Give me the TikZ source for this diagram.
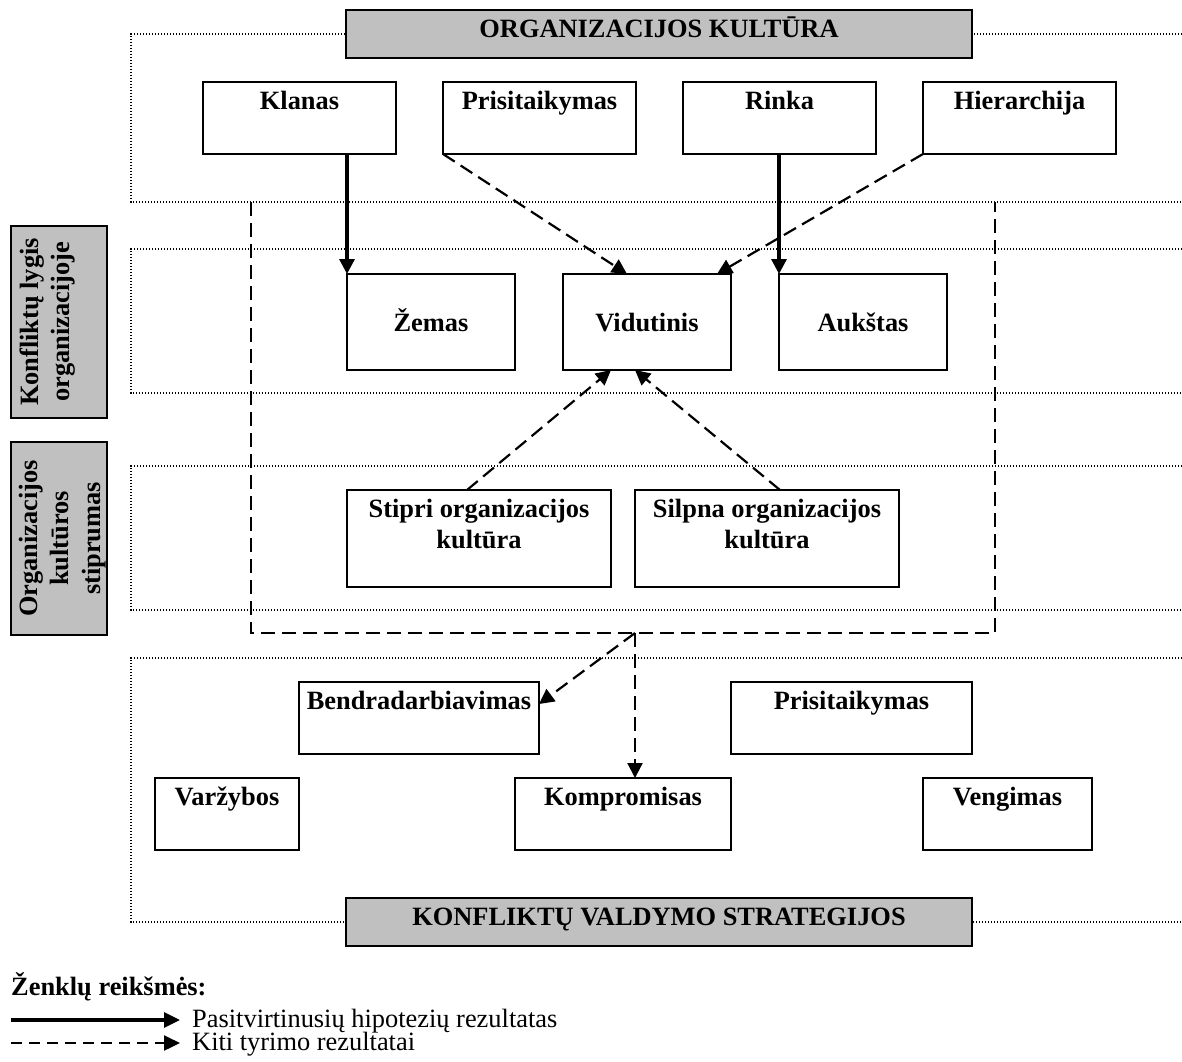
\documentclass[tikz,border=0pt]{standalone}
\usepackage{fontspec}
\setmainfont{Liberation Serif}
\usetikzlibrary{arrows.meta}
\definecolor{headgray}{HTML}{C0C0C0}

\tikzset{
  box/.style={draw, line width=2pt, fill=white, inner sep=0pt, outer sep=0pt, anchor=north west},
  headbox/.style={box, fill=headgray},
  txt/.style={anchor=base, inner sep=0pt, font=\fontsize{26.4}{31.5}\selectfont\bfseries},
  plaintxt/.style={anchor=base west, inner sep=0pt, font=\fontsize{26.4}{31.5}\selectfont},
  zone/.style={line width=1.1pt, dash pattern=on 1.1pt off 1.9pt},
  frame/.style={line width=2.2pt, dash pattern=on 14pt off 7pt},
  solidarrow/.style={line width=3.2pt, -{Triangle[length=15pt,width=15pt]}},
  dasharrow/.style={line width=2.2pt, dash pattern=on 14pt off 7pt, -{Triangle[length=15pt,width=15pt]}},
  legsolid/.style={line width=3.2pt, -{Triangle[length=16pt,width=15pt]}},
  legdash/.style={line width=2.3pt, dash pattern=on 11pt off 7pt, -{Triangle[length=16pt,width=15pt]}},
}

\begin{document}
\begin{tikzpicture}[x=1pt, y=-1pt]
\useasboundingbox (0,0) rectangle (1182,1061);

% dotted zones (open to the right)
\draw[zone] (1182,34) -- (131,34) -- (131,202) -- (1182,202);
\draw[zone] (1182,249) -- (131,249) -- (131,393) -- (1182,393);
\draw[zone] (1182,466) -- (131,466) -- (131,610) -- (1182,610);
\draw[zone] (1182,658) -- (131,658) -- (131,922) -- (1182,922);

% dashed frame around the two middle levels
\coordinate (fa) at (251,202);
\coordinate (fb) at (251,633);
\coordinate (fc) at (995,633);
\coordinate (fd) at (995,202);
\draw[frame] (fa) -- (fb) -- (fc) -- (fd);
\coordinate (split) at (635,633);

% headings
\node[headbox, minimum width=626pt, minimum height=48pt] (orgtitle) at (346,10) {};
\node[txt] (orgtitle-t) at ([yshift=-27pt]orgtitle.north) {ORGANIZACIJOS KULTŪRA};
\node[headbox, minimum width=626pt, minimum height=48pt] (strtitle) at (346,898) {};
\node[txt] (strtitle-t) at ([yshift=-27pt]strtitle.north) {KONFLIKTŲ VALDYMO STRATEGIJOS};

% side headings
\node[headbox, minimum width=96pt, minimum height=192pt] (side1) at (11,226) {};
\node[txt, rotate=90] (side1-a) at ([xshift=27pt]side1.west) {Konfliktų lygis};
\node[txt, rotate=90] (side1-b) at ([xshift=58.5pt]side1.west) {organizacijoje};
\node[headbox, minimum width=96pt, minimum height=193pt] (side2) at (11,442) {};
\node[txt, rotate=90] (side2-a) at ([xshift=26pt]side2.west) {Organizacijos};
\node[txt, rotate=90] (side2-b) at ([xshift=57.5pt]side2.west) {kultūros};
\node[txt, rotate=90] (side2-c) at ([xshift=89pt]side2.west) {stiprumas};

% culture types
\node[box, minimum width=193pt, minimum height=72pt] (klanas) at (203,82) {};
\node[txt] at ([yshift=-27pt]klanas.north) {Klanas};
\node[box, minimum width=193pt, minimum height=72pt] (prisit) at (443,82) {};
\node[txt] at ([yshift=-27pt]prisit.north) {Prisitaikymas};
\node[box, minimum width=193pt, minimum height=72pt] (rinka) at (683,82) {};
\node[txt] at ([yshift=-27pt]rinka.north) {Rinka};
\node[box, minimum width=193pt, minimum height=72pt] (hier) at (923,82) {};
\node[txt] at ([yshift=-27pt]hier.north) {Hierarchija};

% conflict levels
\node[box, minimum width=168pt, minimum height=96pt] (zemas) at (347,274) {};
\node[txt] at ([yshift=-57pt]zemas.north) {Žemas};
\node[box, minimum width=168pt, minimum height=96pt] (vidut) at (563,274) {};
\node[txt] at ([yshift=-57pt]vidut.north) {Vidutinis};
\node[box, minimum width=168pt, minimum height=96pt] (aukstas) at (779,274) {};
\node[txt] at ([yshift=-57pt]aukstas.north) {Aukštas};

% culture strength
\node[box, minimum width=264pt, minimum height=97pt] (stipri) at (347,490) {};
\node[txt] at ([yshift=-27pt]stipri.north) {Stipri organizacijos};
\node[txt] at ([yshift=-58.5pt]stipri.north) {kultūra};
\node[box, minimum width=264pt, minimum height=97pt] (silpna) at (635,490) {};
\node[txt] at ([yshift=-27pt]silpna.north) {Silpna organizacijos};
\node[txt] at ([yshift=-58.5pt]silpna.north) {kultūra};

% strategies
\node[box, minimum width=240pt, minimum height=72pt] (bendr) at (299,682) {};
\node[txt] at ([yshift=-27pt]bendr.north) {Bendradarbiavimas};
\node[box, minimum width=241pt, minimum height=72pt] (prisit2) at (731,682) {};
\node[txt] at ([yshift=-27pt]prisit2.north) {Prisitaikymas};
\node[box, minimum width=144pt, minimum height=72pt] (varz) at (155,778) {};
\node[txt] at ([yshift=-27pt]varz.north) {Varžybos};
\node[box, minimum width=216pt, minimum height=72pt] (kompr) at (515,778) {};
\node[txt] at ([yshift=-27pt]kompr.north) {Kompromisas};
\node[box, minimum width=169pt, minimum height=72pt] (veng) at (923,778) {};
\node[txt] at ([yshift=-27pt]veng.north) {Vengimas};

% connectors
\draw[solidarrow] (klanas.south -| zemas.north west) -- (zemas.north west);
\draw[solidarrow] (rinka.south -| aukstas.north west) -- (aukstas.north west);
\draw[dasharrow] (prisit.south west) -- ([xshift=64pt]vidut.north west);
\draw[dasharrow] (hier.south west) -- ([xshift=154pt]vidut.north west);
\draw[dasharrow] ([xshift=-12pt]stipri.north) -- (stipri.east |- vidut.south);
\draw[dasharrow] ([xshift=13pt]silpna.north) -- (silpna.west |- vidut.south);
\draw[dasharrow] (split) -- ([yshift=14pt]bendr.east);
\draw[dasharrow] (split) -- (split |- kompr.north);

% legend
\node[txt, anchor=base west] (legtitle) at (11,995) {Ženklų reikšmės:};
\coordinate (l1s) at (11,1020);
\coordinate (l1e) at (180,1020);
\coordinate (l2s) at (11,1043);
\coordinate (l2e) at (180,1043);
\draw[legsolid] (l1s) -- (l1e);
\draw[legdash] (l2s) -- (l2e);
\node[plaintxt] (leg1) at (192,1027) {Pasitvirtinusių hipotezių rezultatas};
\node[plaintxt] (leg2) at (192,1050) {Kiti tyrimo rezultatai};
\end{tikzpicture}
\end{document}
